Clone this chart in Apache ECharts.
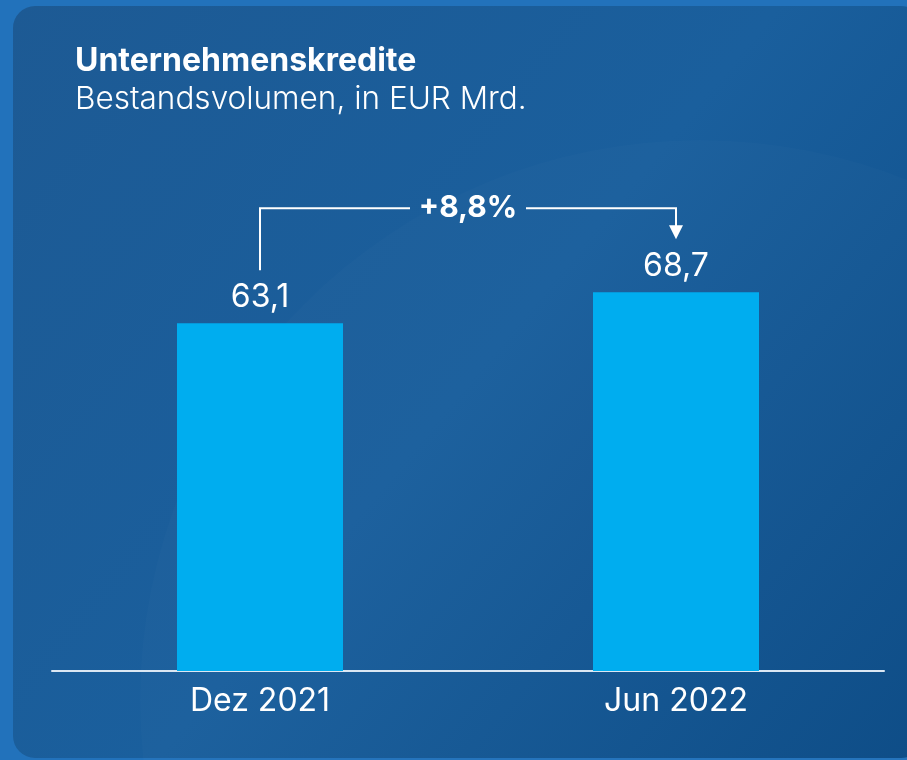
<!DOCTYPE html>
<html>
<head>
<meta charset="utf-8">
<script src="https://cdn.jsdelivr.net/npm/echarts@6/dist/echarts.min.js"></script>
<style>
  html, body { margin: 0; padding: 0; background: #2272bb; }
  #chart { width: 907px; height: 760px; }
</style>
</head>
<body>
<div id="chart"></div>
<script>
const categories = ['Dez 2021', 'Jun 2022']
const values = [63.1, 68.7]
const changeLabel = '+8,8%'

const titleText = 'Unternehmenskredite'
const subtitleText = 'Bestandsvolumen, in EUR Mrd.'

const fmt = v => v.toFixed(1).replace('.', ',')

const chart = echarts.init(document.getElementById('chart'))

const baseGraphics = [
  {
    type: 'rect',
    z: -10,
    shape: { x: 13, y: 6, width: 910, height: 752, r: 22 },
    style: {
      fill: new echarts.graphic.LinearGradient(0, 0, 1, 1, [
        { offset: 0, color: '#1d5a94' },
        { offset: 0.5, color: '#1a5f9d' },
        { offset: 1, color: '#0b4b86' }
      ])
    }
  },
  {
    type: 'circle',
    z: -9,
    shape: { cx: 700, cy: 700, r: 560 },
    style: { fill: 'rgba(255,255,255,0.015)' },
    silent: true
  },
  {
    type: 'text',
    left: 75,
    top: 45,
    style: {
      text: titleText,
      fill: '#ffffff',
      font: 'bold 32px Inter, "Noto Sans", sans-serif'
    }
  },
  {
    type: 'text',
    left: 75,
    top: 84,
    style: {
      text: subtitleText,
      fill: '#ffffff',
      font: '300 31.5px Inter, "Noto Sans", sans-serif'
    }
  }
]

chart.setOption({
  backgroundColor: '#2272bb',
  animation: false,
  grid: { left: 52, right: 23, top: 230, bottom: 89 },
  xAxis: {
    type: 'category',
    data: categories,
    axisTick: { show: false },
    axisLine: { lineStyle: { color: '#dbe7f3', width: 2 } },
    axisLabel: {
      color: '#ffffff',
      fontFamily: 'Inter',
      fontSize: 32,
      margin: 14
    }
  },
  yAxis: {
    type: 'value',
    min: 0,
    max: 80,
    show: false,
    splitLine: { show: false }
  },
  series: [
    {
      type: 'bar',
      data: values,
      barWidth: 166,
      itemStyle: { color: '#00adef' },
      label: {
        show: true,
        position: 'top',
        distance: 10,
        color: '#ffffff',
        fontFamily: 'Inter',
        fontSize: 32,
        formatter: p => fmt(p.value)
      }
    }
  ],
  graphic: baseGraphics
})

// bracket with arrow between the two bars, placed from the axis scale
const p0 = chart.convertToPixel({ gridIndex: 0 }, [0, values[0]])
const p1 = chart.convertToPixel({ gridIndex: 0 }, [1, values[1]])
const lineY = p1[1] - 84
const midX = (p0[0] + p1[0]) / 2
const gap = 58
const stroke = { stroke: '#ffffff', lineWidth: 2, fill: null }

chart.setOption({
  graphic: baseGraphics.concat([
    {
      type: 'polyline',
      shape: { points: [[p0[0], p0[1] - 53], [p0[0], lineY], [midX - gap, lineY]] },
      style: stroke
    },
    {
      type: 'polyline',
      shape: { points: [[midX + gap, lineY], [p1[0], lineY], [p1[0], lineY + 22]] },
      style: stroke
    },
    {
      type: 'polygon',
      shape: { points: [[p1[0] - 7, lineY + 17], [p1[0] + 7, lineY + 17], [p1[0], lineY + 31]] },
      style: { fill: '#ffffff' }
    },
    {
      type: 'text',
      x: midX,
      y: lineY,
      style: {
        text: changeLabel,
        fill: '#ffffff',
        font: 'bold 30px Inter, "Noto Sans", sans-serif',
        align: 'center',
        verticalAlign: 'middle'
      }
    }
  ])
})
</script>
</body>
</html>
